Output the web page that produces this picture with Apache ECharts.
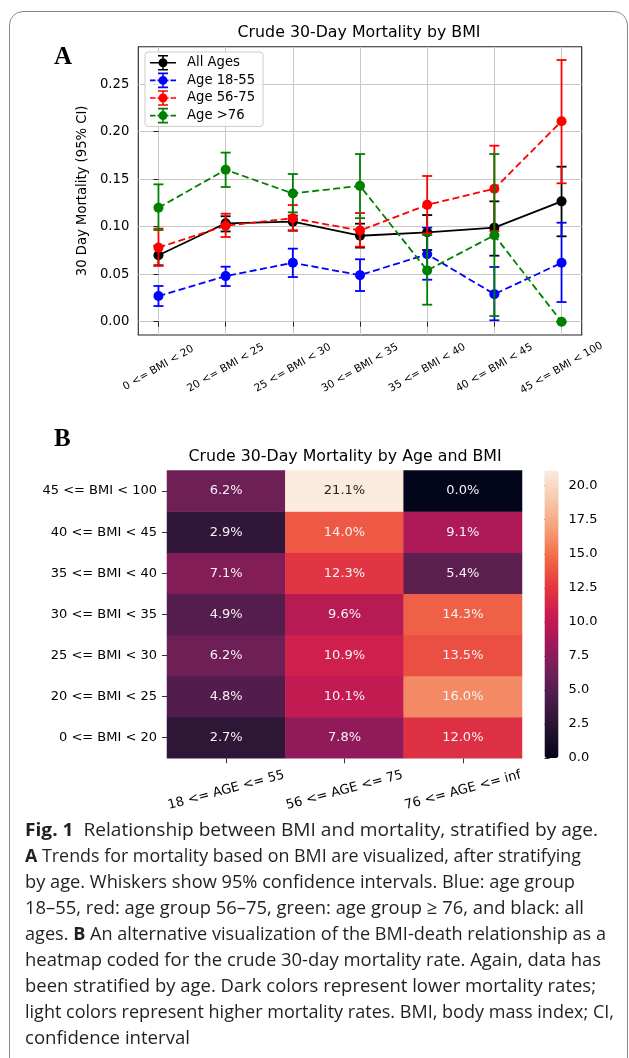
<!DOCTYPE html>
<html><head><meta charset="utf-8">
<script src="https://cdn.jsdelivr.net/npm/echarts@6/dist/echarts.min.js"></script>
<style>
html,body{margin:0;padding:0;background:#fff;width:629px;height:1058px;overflow:hidden;}
#frame{position:absolute;left:9px;top:11px;width:619px;height:1120px;border:1.5px solid #8a8a8a;border-radius:14px;box-sizing:border-box;}
#chart{position:absolute;left:0;top:0;width:629px;height:815px;}
#caption{position:absolute;left:25px;top:0;width:600px;height:1058px;font-family:'Open Sans',sans-serif;font-size:18.5px;color:#231f20;}
.ln{position:absolute;left:0;white-space:nowrap;transform-origin:0 50%;line-height:26px;height:26px;}
.ln b{font-weight:700;}
</style></head>
<body>
<div id="frame"></div>
<div id="chart"></div>
<div id="caption">
<div class="ln" data-w="573" style="top:816px"><b>Fig. 1</b>&nbsp; Relationship between BMI and mortality, stratified by age.</div>
<div class="ln" data-w="556" style="top:842px"><b>A</b> Trends for mortality based on BMI are visualized, after stratifying</div>
<div class="ln" data-w="550" style="top:868px">by age. Whiskers show 95% confidence intervals. Blue: age group</div>
<div class="ln" data-w="559" style="top:894px">18–55, red: age group 56–75, green: age group ≥ 76, and black: all</div>
<div class="ln" data-w="581" style="top:920px">ages. <b>B</b> An alternative visualization of the BMI-death relationship as a</div>
<div class="ln" data-w="576" style="top:946px">heatmap coded for the crude 30-day mortality rate. Again, data has</div>
<div class="ln" data-w="571" style="top:972px">been stratified by age. Dark colors represent lower mortality rates;</div>
<div class="ln" data-w="589" style="top:998px">light colors represent higher mortality rates. BMI, body mass index; CI,</div>
<div class="ln" data-w="165" style="top:1024px">confidence interval</div>
</div>
<script>
// ---- data ----
const bmiCats = ['0 <= BMI < 20','20 <= BMI < 25','25 <= BMI < 30','30 <= BMI < 35','35 <= BMI < 40','40 <= BMI < 45','45 <= BMI < 100'];
const ageCats = ['18 <= AGE <= 55','56 <= AGE <= 75','76 <= AGE <= inf'];
const seriesNames = ['All Ages','Age 18-55','Age 56-75','Age >76'];

const allAges   = [0.070, 0.1036, 0.1053, 0.0905, 0.0941, 0.099, 0.1267];
const allAgesLo = [0.0594, 0.095, 0.0958, 0.078, 0.0755, 0.0695, 0.0899];
const allAgesHi = [0.080, 0.111, 0.1116, 0.1032, 0.1123, 0.1267, 0.1632];

const age18   = [0.027, 0.048, 0.062, 0.049, 0.071, 0.029, 0.062];
const age18Lo = [0.0165, 0.0376, 0.047, 0.0323, 0.0442, 0.0015, 0.0207];
const age18Hi = [0.0376, 0.0579, 0.0769, 0.0657, 0.099, 0.0576, 0.1042];

const age56   = [0.078, 0.101, 0.109, 0.096, 0.123, 0.140, 0.211];
const age56Lo = [0.0587, 0.0892, 0.0962, 0.079, 0.093, 0.0955, 0.1457];
const age56Hi = [0.098, 0.1137, 0.1228, 0.1144, 0.1534, 0.1853, 0.2755];

const age76   = [0.120, 0.160, 0.135, 0.143, 0.054, 0.091, 0.0];
const age76Lo = [0.0965, 0.1418, 0.1151, 0.109, 0.0179, 0.006, 0.0];
const age76Hi = [0.1446, 0.178, 0.1555, 0.1765, 0.0913, 0.1765, 0.0];

const yTicks = [0, 0.05, 0.1, 0.15, 0.2, 0.25];
const xTicks = [0, 1, 2, 3, 4, 5, 6];

// heatmap rows follow bmiCats (bottom to top), columns follow ageCats
const heatRows = [
  [2.7, 7.8, 12.0],
  [4.8, 10.1, 16.0],
  [6.2, 10.9, 13.5],
  [4.9, 9.6, 14.3],
  [7.1, 12.3, 5.4],
  [2.9, 14.0, 9.1],
  [6.2, 21.1, 0.0]
];
const cbarTicks = [0, 2.5, 5, 7.5, 10, 12.5, 15, 17.5, 20];
const rocket = ['#03051a','#23132f','#461c48','#701f57','#a0195b','#cb1b4f','#e63a40','#f26b48','#f6a07a','#f7c8aa','#faebdd'];

// ---- helpers ----
const FONT = 'DejaVu Sans';
function errRender(color){
  return function(params, api){
    const x = api.value(0), lo = api.value(1), hi = api.value(2);
    const a = api.coord([x, lo]), b = api.coord([x, hi]);
    const hw = 5;
    const st = {stroke: color, lineWidth: 1.8, fill: null};
    return {type:'group', children:[
      {type:'line', shape:{x1:a[0], y1:a[1], x2:b[0], y2:b[1]}, style: st},
      {type:'line', shape:{x1:a[0]-hw, y1:a[1], x2:a[0]+hw, y2:a[1]}, style: st},
      {type:'line', shape:{x1:b[0]-hw, y1:b[1], x2:b[0]+hw, y2:b[1]}, style: st}
    ]};
  };
}
const solidIcon = 'path://M0 8.2H26V9.8H0Z M12.2 2H13.8V16H12.2Z M8 1.2H18V2.8H8Z M8 15.2H18V16.8H8Z M17.5 9A4.5 4.5 0 1 1 8.5 9A4.5 4.5 0 1 1 17.5 9Z';
const dashIcon = 'path://M0 8.2H5.5V9.8H0Z M7.5 8.2H10V9.8H7.5Z M16 8.2H18.5V9.8H16Z M20.5 8.2H26V9.8H20.5Z M12.2 2H13.8V16H12.2Z M8 1.2H18V2.8H8Z M8 15.2H18V16.8H8Z M17.5 9A4.5 4.5 0 1 1 8.5 9A4.5 4.5 0 1 1 17.5 9Z';

const groups = [
  {name: seriesNames[0], v: allAges, lo: allAgesLo, hi: allAgesHi, color: '#000000', dash: false},
  {name: seriesNames[1], v: age18, lo: age18Lo, hi: age18Hi, color: '#0000ff', dash: true},
  {name: seriesNames[2], v: age56, lo: age56Lo, hi: age56Hi, color: '#ff0000', dash: true},
  {name: seriesNames[3], v: age76, lo: age76Lo, hi: age76Hi, color: '#008000', dash: true}
];

const series = [];
groups.forEach((g, k) => {
  series.push({
    type: 'custom', name: g.name + ' CI', xAxisIndex: 0, yAxisIndex: 0, z: 2 + k*2,
    renderItem: errRender(g.color), encode: {x: 0, y: [1, 2]},
    data: bmiCats.map((c, i) => [i, g.lo[i], g.hi[i]])
  });
  series.push({
    type: 'line', name: g.name, xAxisIndex: 0, yAxisIndex: 0, z: 3 + k*2,
    symbol: 'circle', symbolSize: 10, showSymbol: true,
    itemStyle: {color: g.color},
    lineStyle: {color: g.color, width: 1.8, type: g.dash ? [7, 3.5] : 'solid'},
    data: bmiCats.map((c, i) => [i, g.v[i]])
  });
});

const heatData = [];
heatRows.forEach((row, r) => row.forEach((v, c) => {
  heatData.push({value: [c, r, v], label: {color: v > 18 ? '#262626' : '#f7f2f4'}});
}));
const heatIndex = series.length;
series.push({
  type: 'heatmap', xAxisIndex: 1, yAxisIndex: 1, data: heatData,
  label: {show: true, fontFamily: FONT, fontSize: 13, formatter: p => p.value[2].toFixed(1) + '%'},
  itemStyle: {borderWidth: 0},
  emphasis: {disabled: true}
});

const axisTxt = {color: '#000', fontFamily: FONT};
const option = {
  animation: false,
  textStyle: {fontFamily: FONT},
  grid: [
    {left: 138.3, top: 46.7, width: 443.4, height: 288.3, show: true, borderColor: '#222', borderWidth: 1.1, backgroundColor: 'transparent'},
    {left: 167, top: 470.5, width: 355, height: 287.8},
    {left: 544.5, top: 470.7, width: 14, height: 287.3}
  ],
  xAxis: [
    {gridIndex: 0, type: 'value', min: -0.3, max: 6.3, splitNumber: 7,
     axisLine: {show: false},
     axisTick: {show: true, customValues: xTicks, length: 5, lineStyle: {color: '#222'}},
     axisLabel: Object.assign({customValues: xTicks, rotate: 30, align: 'center', verticalAlign: 'middle', margin: 33, fontSize: 10.6,
       formatter: v => (Number.isInteger(v) && bmiCats[v]) ? bmiCats[v] : ''}, axisTxt),
     splitLine: {show: true, lineStyle: {color: '#c8c8c8', width: 1}}},
    {gridIndex: 1, type: 'category', data: ageCats,
     axisLine: {show: false},
     axisTick: {show: true, alignWithLabel: true, length: 5, lineStyle: {color: '#333'}},
     axisLabel: Object.assign({rotate: 15, align: 'center', verticalAlign: 'middle', margin: 32, fontSize: 13}, axisTxt),
     splitLine: {show: false}},
    {gridIndex: 2, type: 'value', show: false, min: 0, max: 1}
  ],
  yAxis: [
    {gridIndex: 0, type: 'value', min: -0.014, max: 0.2895, splitNumber: 6,
     axisLine: {show: false},
     axisTick: {show: true, customValues: yTicks, length: 5, lineStyle: {color: '#222'}},
     axisLabel: Object.assign({customValues: yTicks, margin: 9, fontSize: 13.2,
       formatter: v => yTicks.some(t => Math.abs(t - v) < 1e-9) ? v.toFixed(2) : ''}, axisTxt),
     splitLine: {show: true, lineStyle: {color: '#c8c8c8', width: 1}},
     name: '30 Day Mortality (95% CI)', nameLocation: 'middle', nameGap: 43,
     nameTextStyle: {fontSize: 13.2, color: '#000', fontFamily: FONT}},
    {gridIndex: 1, type: 'category', data: bmiCats,
     axisLine: {show: false},
     axisTick: {show: true, alignWithLabel: true, length: 5, lineStyle: {color: '#333'}},
     axisLabel: Object.assign({margin: 10, fontSize: 13}, axisTxt),
     splitLine: {show: false}},
    {gridIndex: 2, type: 'value', position: 'right', min: 0, max: 21.1,
     axisLine: {show: false},
     axisTick: {show: true, customValues: cbarTicks, length: 5, lineStyle: {color: '#333'}},
     axisLabel: Object.assign({customValues: cbarTicks, margin: 10, fontSize: 13,
       formatter: v => cbarTicks.indexOf(v) >= 0 ? v.toFixed(1) : ''}, axisTxt),
     splitLine: {show: false}}
  ],
  visualMap: {
    type: 'continuous', min: 0, max: 21.1, seriesIndex: heatIndex,
    left: 544.5, top: 470.7, itemWidth: 14, itemHeight: 287.3, padding: 0,
    calculable: false, hoverLink: false, text: null, showLabel: false,
    inRange: {color: rocket}
  },
  legend: {
    orient: 'vertical', left: 145, top: 52, itemWidth: 26, itemHeight: 18, itemGap: 2,
    padding: [3, 8, 3, 5], backgroundColor: 'rgba(255,255,255,0.85)', borderColor: '#cccccc', borderWidth: 1, borderRadius: 3,
    textStyle: {fontSize: 13.2, color: '#000', fontFamily: FONT, padding: [0, 0, 0, 6]},
    data: groups.map(g => ({name: g.name, icon: g.dash ? dashIcon : solidIcon, itemStyle: {color: g.color}}))
  },
  graphic: [
    {type: 'text', x: 359, y: 33, style: {text: 'Crude 30-Day Mortality by BMI', fontFamily: FONT, fontSize: 15.8, fill: '#000', align: 'center', verticalAlign: 'middle'}},
    {type: 'text', x: 54, y: 58, style: {text: 'A', fontFamily: 'Liberation Serif', fontWeight: 'bold', fontSize: 25, fill: '#000', align: 'left', verticalAlign: 'middle'}},
    {type: 'text', x: 345, y: 457.3, style: {text: 'Crude 30-Day Mortality by Age and BMI', fontFamily: FONT, fontSize: 15.8, fill: '#000', align: 'center', verticalAlign: 'middle'}},
    {type: 'text', x: 54, y: 440, style: {text: 'B', fontFamily: 'Liberation Serif', fontWeight: 'bold', fontSize: 25, fill: '#000', align: 'left', verticalAlign: 'middle'}}
  ],
  series: series
};
const chart = echarts.init(document.getElementById('chart'), null, {renderer: 'canvas'});
chart.setOption(option);

function fitCaption(){
  document.querySelectorAll('.ln').forEach(el => {
    el.style.transform = 'none';
    const w = el.getBoundingClientRect().width;
    const t = +el.dataset.w;
    if (w > 0) el.style.transform = 'scaleX(' + (t / w) + ')';
  });
}
fitCaption();
if (document.fonts && document.fonts.ready) document.fonts.ready.then(fitCaption);
</script>
</body></html>
